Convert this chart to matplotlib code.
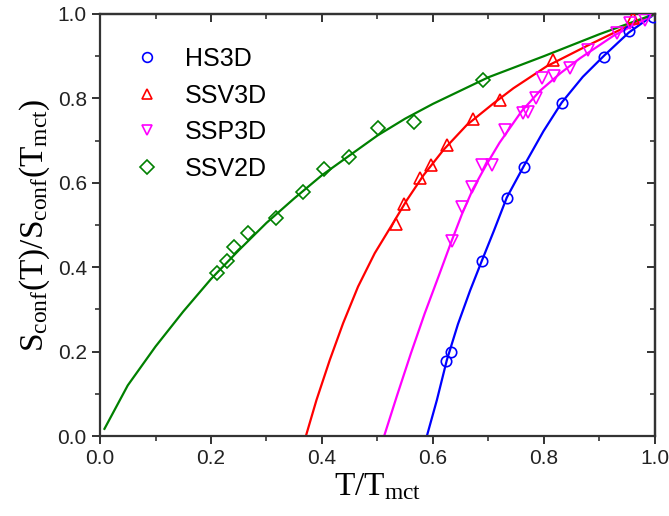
import matplotlib
matplotlib.use('Agg')
import matplotlib.pyplot as plt
from matplotlib.ticker import MultipleLocator

plt.rcParams['font.family'] = ['Liberation Sans', 'DejaVu Sans']
plt.rcParams['mathtext.fontset'] = 'custom'
plt.rcParams['mathtext.rm'] = 'Liberation Serif'
plt.rcParams['mathtext.it'] = 'Liberation Serif:italic'

# simulation points
hs3d_x = [0.623, 0.632, 0.689, 0.733, 0.764, 0.832, 0.909, 0.953, 0.996]
hs3d_y = [0.178, 0.198, 0.415, 0.565, 0.638, 0.790, 0.899, 0.959, 0.992]

ssv3d_x = [0.534, 0.548, 0.577, 0.597, 0.625, 0.673, 0.720, 0.817, 0.960]
ssv3d_y = [0.503, 0.550, 0.611, 0.641, 0.690, 0.751, 0.797, 0.891, 0.991]

ssp3d_x = [0.634, 0.652, 0.670, 0.688, 0.706, 0.729, 0.762, 0.772, 0.786, 0.796,
           0.818, 0.847, 0.879, 0.932, 0.955, 0.982]
ssp3d_y = [0.462, 0.543, 0.589, 0.642, 0.642, 0.725, 0.765, 0.768, 0.802, 0.848,
           0.852, 0.873, 0.914, 0.954, 0.978, 0.986]

ssv2d_x = [0.211, 0.228, 0.242, 0.266, 0.317, 0.366, 0.404, 0.449, 0.501, 0.566, 0.691]
ssv2d_y = [0.386, 0.414, 0.449, 0.481, 0.517, 0.579, 0.633, 0.662, 0.729, 0.745, 0.844]

# fit curves
hs3d_fx = [0.589, 0.607, 0.625, 0.645, 0.667, 0.688, 0.710, 0.733, 0.763, 0.799,
           0.832, 0.870, 0.909, 0.953, 1.0]
hs3d_fy = [0.0, 0.085, 0.180, 0.265, 0.345, 0.415, 0.487, 0.565, 0.638, 0.722,
           0.790, 0.851, 0.902, 0.956, 1.0]

ssv3d_fx = [0.371, 0.390, 0.414, 0.438, 0.465, 0.495, 0.526, 0.553, 0.583, 0.619,
            0.661, 0.709, 0.745, 0.805, 0.877, 0.949, 1.0]
ssv3d_fy = [0.0, 0.085, 0.180, 0.267, 0.354, 0.433, 0.500, 0.559, 0.618, 0.678,
            0.737, 0.788, 0.824, 0.876, 0.924, 0.970, 1.0]

ssp3d_fx = [0.512, 0.535, 0.560, 0.585, 0.610, 0.633, 0.652, 0.672, 0.695, 0.720,
            0.760, 0.793, 0.830, 0.865, 0.925, 1.0]
ssp3d_fy = [0.0, 0.095, 0.195, 0.290, 0.378, 0.460, 0.525, 0.585, 0.640, 0.695,
            0.770, 0.818, 0.860, 0.895, 0.948, 1.0]

ssv2d_fx = [0.008, 0.05, 0.10, 0.15, 0.20, 0.25, 0.30, 0.35, 0.40, 0.45, 0.50,
            0.55, 0.60, 0.70, 0.80, 0.90, 1.0]
ssv2d_fy = [0.017, 0.120, 0.212, 0.295, 0.372, 0.440, 0.505, 0.563, 0.618, 0.665,
            0.712, 0.752, 0.787, 0.850, 0.900, 0.952, 1.0]

fig = plt.figure(figsize=(6.69, 5.16), dpi=100)
ax = fig.add_axes([0.1495, 0.155, 0.8295, 0.818])

series = [
    ('HS3D', hs3d_x, hs3d_y, hs3d_fx, hs3d_fy, '#0000ff', 'o', 7.5),
    ('SSV3D', ssv3d_x, ssv3d_y, ssv3d_fx, ssv3d_fy, '#ff0000', '^', 8.5),
    ('SSP3D', ssp3d_x, ssp3d_y, ssp3d_fx, ssp3d_fy, '#ff00ff', 'v', 8.5),
    ('SSV2D', ssv2d_x, ssv2d_y, ssv2d_fx, ssv2d_fy, '#008000', 'D', 7.0),
]

for name, x, y, fx, fy, c, m, ms in series:
    ax.plot(fx, fy, color=c, lw=1.6, zorder=2)
for name, x, y, fx, fy, c, m, ms in series:
    ax.plot(x, y, ls='none', marker=m, ms=ms, mfc='none', mec=c, mew=1.2,
            label=name, zorder=3)

ax.set_xlim(0, 1)
ax.set_ylim(0, 1)
ax.xaxis.set_major_locator(MultipleLocator(0.2))
ax.xaxis.set_minor_locator(MultipleLocator(0.1))
ax.yaxis.set_major_locator(MultipleLocator(0.2))
ax.yaxis.set_minor_locator(MultipleLocator(0.1))
ax.xaxis.set_major_formatter(plt.FormatStrFormatter('%.1f'))
ax.yaxis.set_major_formatter(plt.FormatStrFormatter('%.1f'))
ax.tick_params(which='major', direction='out', length=6, width=1.3, labelsize=15, colors='#222222')
ax.tick_params(which='minor', direction='out', length=3.5, width=1.1, colors='#222222')
for s in ax.spines.values():
    s.set_linewidth(1.6)
    s.set_color('#333333')

# mirrored ticks on top and right, pointing in
top = ax.secondary_xaxis('top')
top.xaxis.set_major_locator(MultipleLocator(0.2))
top.xaxis.set_minor_locator(MultipleLocator(0.1))
top.tick_params(which='major', direction='in', length=6, width=1.3, labeltop=False, colors='#222222')
top.tick_params(which='minor', direction='in', length=3.5, width=1.1, colors='#222222')
top.spines['top'].set_linewidth(1.6)
top.spines['top'].set_color('#333333')
right = ax.secondary_yaxis('right')
right.yaxis.set_major_locator(MultipleLocator(0.2))
right.yaxis.set_minor_locator(MultipleLocator(0.1))
right.tick_params(which='major', direction='in', length=6, width=1.3, labelright=False, colors='#222222')
right.tick_params(which='minor', direction='in', length=3.5, width=1.1, colors='#222222')
right.spines['right'].set_linewidth(1.6)
right.spines['right'].set_color('#333333')

ax.set_xlabel(r'$\mathrm{T/T_{mct}}$', fontsize=24, labelpad=2)
ax.set_ylabel(r'$\mathrm{S_{conf}(T)/S_{conf}(T_{mct})}$', fontsize=24, labelpad=4)

leg = ax.legend(loc='upper left', bbox_to_anchor=(0.045, 0.945), frameon=False, fontsize=18,
                handlelength=1.0, handletextpad=1.0, labelspacing=0.5, borderaxespad=0)
for h in leg.legend_handles:
    h.set_markersize(7)

fig.savefig('out.png', dpi=100)
